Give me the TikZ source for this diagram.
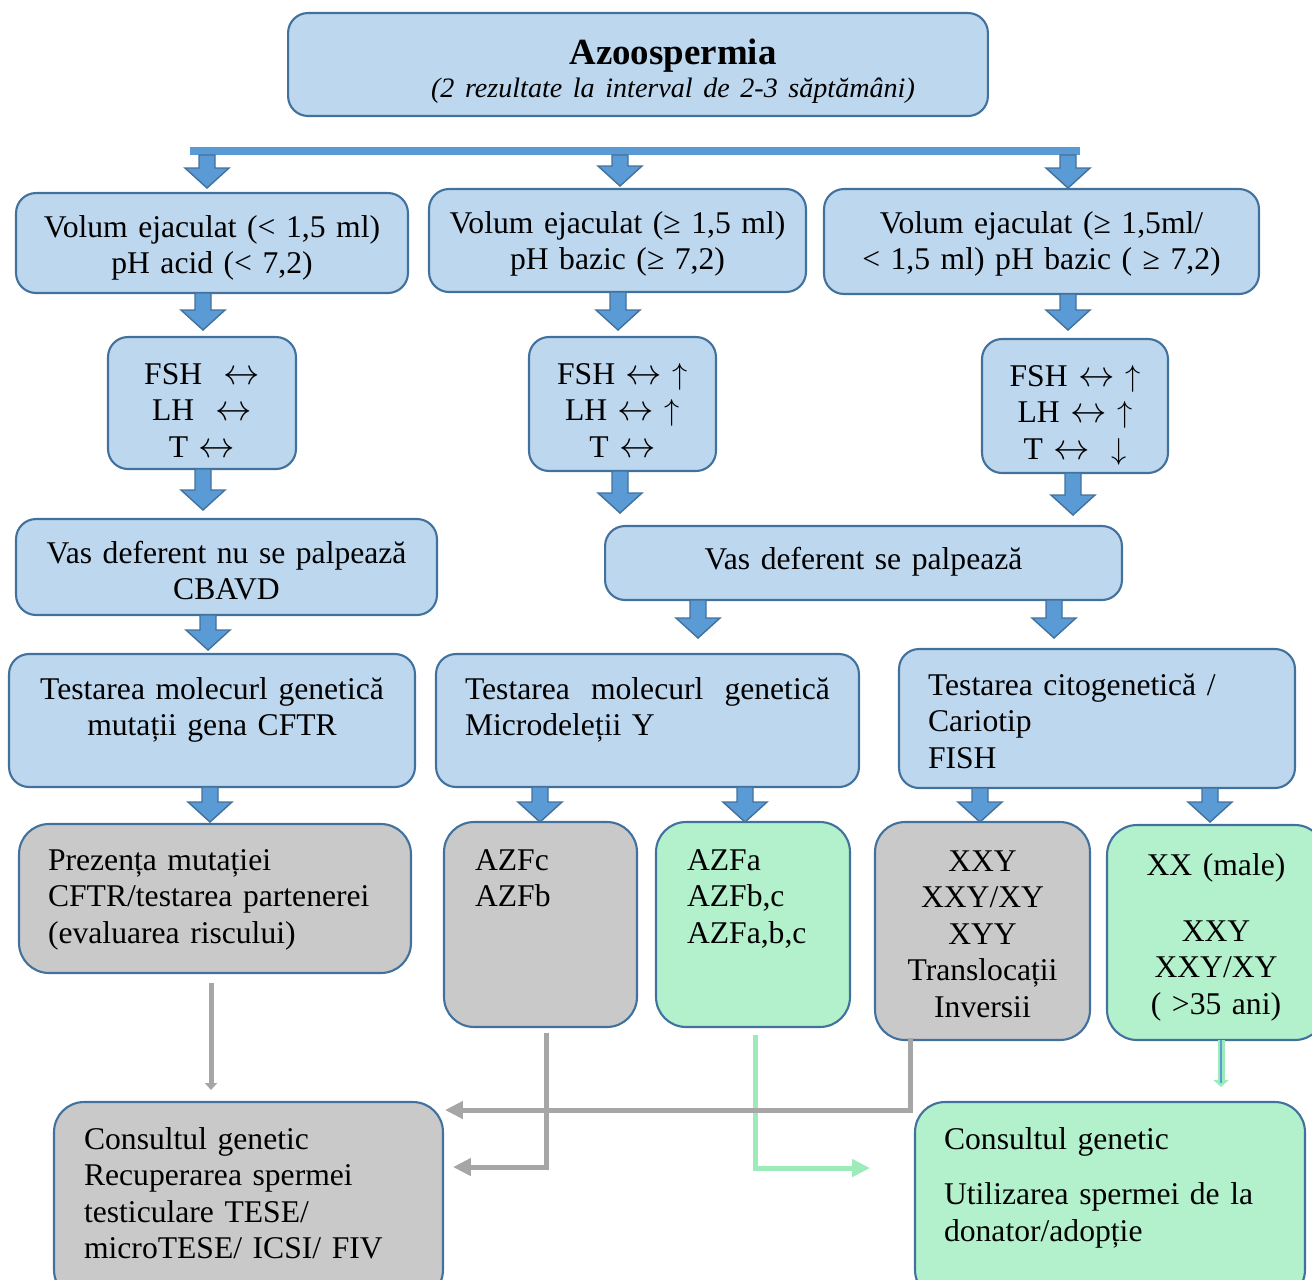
\documentclass[tikz,border=0pt]{standalone}
\usepackage{fontspec}
\setmainfont{Liberation Serif}
\usetikzlibrary{arrows.meta,calc}
\definecolor{boxfill}{HTML}{BDD7EE}
\definecolor{boxline}{HTML}{41719C}
\definecolor{arrowblue}{HTML}{5B9BD5}
\definecolor{grayfill}{HTML}{C9C9C9}
\definecolor{greenfill}{HTML}{B3F0CC}
\definecolor{grayconn}{HTML}{A6A6A6}
\definecolor{greenconn}{HTML}{9CEBB9}

\newcommand{\lr}{{\fontsize{22}{20.8}\selectfont$\leftrightarrow$}}

\tikzset{
  box/.style={draw=boxline, line width=1.2pt, rounded corners=0.4cm, inner ysep=0pt, inner xsep=0.3cm, outer sep=0pt, align=center, font=\fontsize{18}{20.8}\selectfont},
  bluebox/.style={box, fill=boxfill},
  graybox/.style={box, fill=grayfill, rounded corners=0.6cm},
  greenbox/.style={box, fill=greenfill, rounded corners=0.6cm},
  leftbox/.style={align=left, inner xsep=0.58cm},
  boxsize/.style n args={3}{text width=#1, text height=#2, text depth=#3},
  blockarrow/.style={fill=arrowblue, draw=boxline, line width=0.8pt},
  grayline/.style={draw=grayconn, line width=0.1cm, -{Triangle[length=0.36cm,width=0.34cm]}},
  greenline/.style={draw=greenconn, line width=0.1cm, -{Triangle[length=0.36cm,width=0.34cm]}},
}

% block arrow: [gap]{x in px}{from}{to}
\newcommand{\blockarr}[4][0.12cm]{%
  \draw[blockarrow] let \p1=(#3.south), \p2=(#4.north) in
    ({#2*0.02cm-0.16cm},\y1) -- ({#2*0.02cm+0.16cm},\y1) -- ({#2*0.02cm+0.16cm},{\y2+#1+0.4cm})
    -- ({#2*0.02cm+0.44cm},{\y2+#1+0.4cm}) -- ({#2*0.02cm},{\y2+#1}) -- ({#2*0.02cm-0.44cm},{\y2+#1+0.4cm})
    -- ({#2*0.02cm-0.16cm},{\y2+#1+0.4cm}) -- cycle;}

\begin{document}
\begin{tikzpicture}[x=0.02cm, y=-0.02cm]
    \useasboundingbox (0,0) rectangle (1312,1279);

    % Title
    \node[bluebox, boxsize={13.4cm}{1.02cm}{1.04cm}] (title) at (638,64.5) {\hspace*{1.4cm}{\fontsize{21}{24}\selectfont\bfseries Azoospermia}\\[-1.5pt]\hspace*{1.4cm}{\fontsize{16}{19}\selectfont\itshape (2 rezultate la interval de 2-3 săptămâni)}};
    \node[fill=arrowblue, minimum width=17.8cm, minimum height=0.16cm, inner sep=0pt, outer sep=0pt] (bar) at (635,151) {};

    % Volum ejaculat
    \node[bluebox, boxsize={7.24cm}{0.88cm}{1.12cm}] (b1) at (212,243) {Volum ejaculat (< 1,5 ml)\\pH acid (< 7,2)};
    \node[bluebox, boxsize={6.94cm}{0.88cm}{1.18cm}] (b2) at (617.5,240.5) {Volum ejaculat (≥ 1,5 ml)\\pH bazic (≥ 7,2)};
    \node[bluebox, boxsize={8.1cm}{0.88cm}{1.22cm}] (b3) at (1041.5,241.5) {Volum ejaculat (≥ 1,5ml/\\< 1,5 ml) pH bazic ( ≥ 7,2)};

    % Hormoni
    \node[bluebox, boxsize={3.16cm}{0.94cm}{1.7cm}] (f1) at (202,403) {FSH\ \ \lr\\LH\ \ \lr\\T \lr};
    \node[bluebox, boxsize={3.14cm}{0.94cm}{1.74cm}] (f2) at (622.5,404) {FSH \lr\ $\uparrow$\\LH \lr\ $\uparrow$\\T \lr};
    \node[bluebox, boxsize={3.12cm}{0.94cm}{1.74cm}] (f3) at (1075,406) {FSH \lr\ $\uparrow$\\LH \lr\ $\uparrow$\\T \lr\ \ $\downarrow$};

    % Vas deferent
    \node[bluebox, boxsize={7.82cm}{0.88cm}{1.04cm}] (v1) at (226.5,567) {Vas deferent nu se palpează\\CBAVD};
    \node[bluebox, boxsize={9.74cm}{0.86cm}{0.62cm}] (v2) at (863.5,563) {Vas deferent se palpează};

    % Testare
    \node[bluebox, boxsize={7.52cm}{0.9cm}{1.76cm}] (t1) at (212,720.5) {Testarea molecurl genetică\\mutații gena CFTR};
    \node[bluebox, leftbox, boxsize={7.3cm}{0.9cm}{1.76cm}] (t2) at (647.5,720.5) {Testarea\ \ molecurl\ \ genetică\\Microdeleții Y};
    \node[bluebox, leftbox, boxsize={6.76cm}{0.92cm}{1.86cm}] (t3) at (1097,718.5) {Testarea citogenetică /\\Cariotip\\FISH};

    % Rezultate
    \node[graybox, leftbox, boxsize={6.68cm}{0.92cm}{2.06cm}] (p1) at (215,898.5) {Prezența mutației\\CFTR/testarea partenerei\\(evaluarea riscului)};
    \node[graybox, leftbox, inner xsep=0.62cm, boxsize={2.62cm}{0.96cm}{3.14cm}] (a1) at (540.5,924.5) {AZFc\\AZFb};
    \node[greenbox, leftbox, inner xsep=0.62cm, boxsize={2.64cm}{0.96cm}{3.14cm}] (a2) at (753,924.5) {AZFa\\AZFb,c\\AZFa,b,c};
    \node[graybox, boxsize={3.7cm}{0.98cm}{3.38cm}] (x1) at (982.5,931) {XXY\\XXY/XY\\XYY\\Translocații\\Inversii};
    \node[greenbox, boxsize={3.76cm}{1.0cm}{3.3cm}] (x2) at (1216,932.5) {XX (male)\\[17pt]XXY\\XXY/XY\\( >35 ani)};

    % Consult
    \node[graybox, leftbox, inner xsep=0.6cm, boxsize={6.58cm}{0.94cm}{3.02cm}] (c1) at (248.5,1201) {Consultul genetic\\Recuperarea spermei\\testiculare TESE/\\microTESE/ ICSI/ FIV};
    \node[greenbox, leftbox, boxsize={6.64cm}{0.94cm}{3.02cm}] (c2) at (1110,1201) {Consultul genetic\\[11pt]Utilizarea spermei de la\\donator/adopție};

    % Block arrows
    \blockarr[0.1cm]{207}{bar}{b1}
    \blockarr[0.06cm]{620}{bar}{b2}
    \blockarr[0.02cm]{1068}{bar}{b3}
    \blockarr[0.14cm]{203}{b1}{f1}
    \blockarr[0.14cm]{618}{b2}{f2}
    \blockarr[0.18cm]{1068}{b3}{f3}
    \blockarr[0.18cm]{203}{f1}{v1}
    \blockarr[0.26cm]{620}{f2}{v2}
    \blockarr[0.22cm]{1073}{f3}{v2}
    \blockarr[0.08cm]{208}{v1}{t1}
    \blockarr[0.32cm]{698}{v2}{t2}
    \blockarr[0.22cm]{1054}{v2}{t3}
    \blockarr[0.04cm]{210}{t1}{p1}
    \blockarr[0cm]{540}{t2}{a1}
    \blockarr[0cm]{745}{t2}{a2}
    \blockarr[0cm]{980}{t3}{x1}
    \blockarr[0.06cm]{1210}{t3}{x2}

    % Connectors to consult
    \draw[greenline] ($(a2.south)+(2,8)$) |- ($(c2.north west)+(-45,66)$);
    \draw[grayline, -{Triangle[length=0.14cm,width=0.24cm]}] ($(p1.south)+(-4,10)$) -- ($(p1.south |- c1.north)+(-4,-12)$);
    \draw[grayline] ($(a1.south)+(5.5,6)$) |- ($(c1.north east)+(10,65)$);
    \draw[grayline] ($(x1.south west)+(35,-2)$) |- ($(c1.north east)+(2,8)$);
    \draw[greenconn, line width=0.14cm, -{Triangle[length=0.14cm,width=0.3cm]}] ($(x2.south)+(5,0)$) -- ($(x2.south |- c2.north)+(5,-15)$);
    \draw[arrowblue, line width=0.04cm] ($(x2.south)+(5,0)$) -- ($(x2.south |- c2.north)+(5,-19)$);
\end{tikzpicture}
\end{document}
